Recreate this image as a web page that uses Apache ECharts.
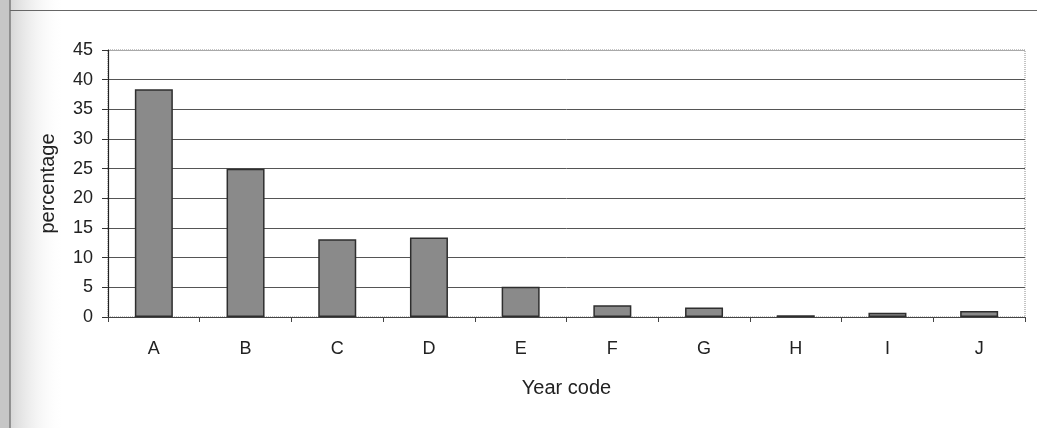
<!DOCTYPE html>
<html>
<head>
<meta charset="utf-8">
<script src="https://cdn.jsdelivr.net/npm/echarts@6/dist/echarts.min.js"></script>
<style>
  html, body { margin: 0; padding: 0; background: #ffffff; }
  #chart { width: 1037px; height: 428px; }
</style>
</head>
<body>
<div id="chart"></div>
<script>
// Share of records by year code
const categories = ['A', 'B', 'C', 'D', 'E', 'F', 'G', 'H', 'I', 'J'];
const percentages = [38.4, 25.0, 13.1, 13.4, 5.1, 2.0, 1.6, 0.3, 0.7, 1.0];
const yTicks = { min: 0, max: 45, interval: 5 };

const font = '"Liberation Sans", Arial, sans-serif';
const chart = echarts.init(document.getElementById('chart'), null, { renderer: 'canvas' });

chart.setOption({
  animation: false,
  backgroundColor: '#ffffff',
  graphic: [
    // page edge shading on the left
    { type: 'rect', left: 0, top: 0, shape: { width: 10, height: 428 }, style: { fill: '#c6c6c6' }, z: -10 },
    {
      type: 'rect', left: 10, top: 0, shape: { width: 55, height: 428 },
      style: {
        fill: new echarts.graphic.LinearGradient(0, 0, 1, 0, [
          { offset: 0, color: '#d6d6d6' },
          { offset: 1, color: 'rgba(255,255,255,0)' }
        ])
      },
      z: -10
    },
    // chart frame lines
    { type: 'line', shape: { x1: 10, y1: 0, x2: 10, y2: 428 }, style: { stroke: '#7a7a7a', lineWidth: 1.5 }, z: -5 },
    { type: 'line', shape: { x1: 10, y1: 10.5, x2: 1037, y2: 10.5 }, style: { stroke: '#666666', lineWidth: 1.2 }, z: -5 }
  ],
  grid: {
    left: 108, right: 12, top: 50, bottom: 111,
    show: true, borderColor: '#8a8a8a', borderWidth: 1, borderType: 'dotted',
    backgroundColor: 'transparent'
  },
  xAxis: {
    type: 'category',
    data: categories,
    boundaryGap: true,
    name: 'Year code',
    nameLocation: 'middle',
    nameGap: 61,
    nameTextStyle: { fontFamily: font, fontSize: 20, color: '#222' },
    axisLine: { show: true, lineStyle: { color: '#444', width: 1.2 } },
    axisTick: { show: true, alignWithLabel: false, length: 5, lineStyle: { color: '#444' } },
    axisLabel: { fontFamily: font, fontSize: 18, color: '#222', margin: 23 },
    splitLine: { show: false }
  },
  yAxis: {
    type: 'value',
    min: yTicks.min, max: yTicks.max, interval: yTicks.interval,
    name: 'percentage',
    nameLocation: 'middle',
    nameGap: 50,
    nameTextStyle: { fontFamily: font, fontSize: 20, color: '#222' },
    axisLine: { show: true, lineStyle: { color: '#222', width: 1.2 } },
    axisTick: { show: true, inside: false, length: 6, lineStyle: { color: '#333' } },
    axisLabel: { fontFamily: font, fontSize: 18, color: '#222', margin: 15 },
    splitLine: {
      show: true,
      lineStyle: { color: ['#555', '#555', '#555', '#555', '#555', '#555', '#555', '#555', '#555', '#aaa'], width: 1 }
    }
  },
  series: [{
    type: 'bar',
    data: percentages,
    barWidth: 38,
    itemStyle: { color: '#8a8a8a', borderColor: '#2e2e2e', borderWidth: 1.5 }
  }]
});
</script>
</body>
</html>
